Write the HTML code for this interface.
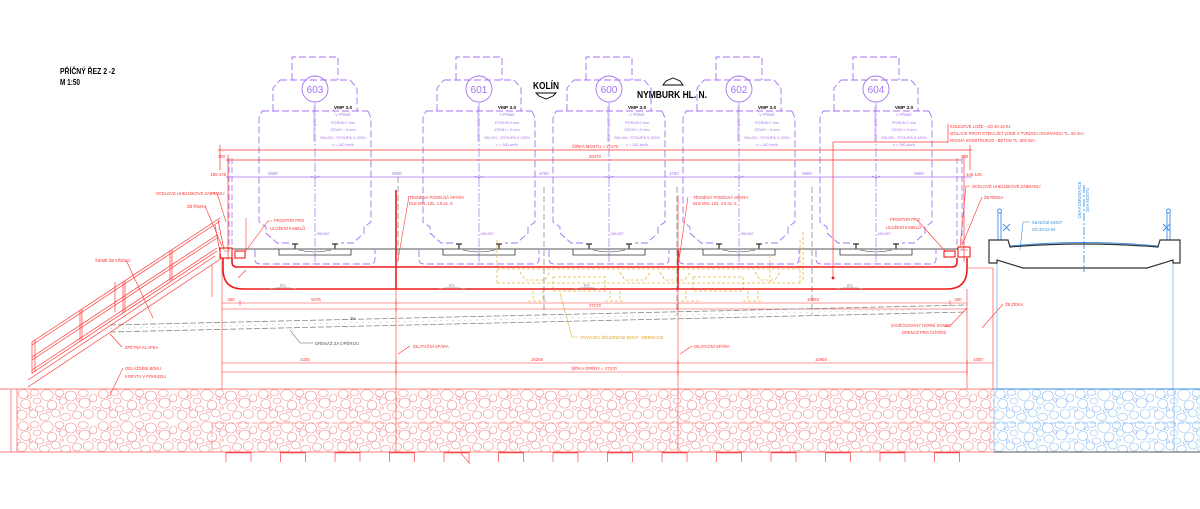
<!DOCTYPE html>
<html><head><meta charset="utf-8"><style>
html,body{margin:0;padding:0;background:#fff;}
svg{display:block;}
text{font-family:"Liberation Sans",sans-serif;}
</style></head><body>
<svg width="1200" height="509" viewBox="0 0 1200 509" xmlns="http://www.w3.org/2000/svg">
<defs>
<pattern id="st" width="64" height="32" patternUnits="userSpaceOnUse" patternTransform="translate(17,389) scale(1.25,1)">
<g fill="none" stroke="#f26a6a" stroke-width="0.5">
<ellipse cx="5" cy="5" rx="4" ry="4.5"/><ellipse cx="14" cy="3.5" rx="3.5" ry="3"/><ellipse cx="24" cy="6" rx="5" ry="5.5"/><ellipse cx="34" cy="4" rx="3.5" ry="3.5"/><ellipse cx="43" cy="7" rx="4.5" ry="5"/><ellipse cx="53" cy="4" rx="4" ry="3.5"/><ellipse cx="61" cy="9" rx="3" ry="4"/>
<ellipse cx="7" cy="15" rx="4" ry="4.5"/><ellipse cx="16" cy="12" rx="3" ry="3"/><ellipse cx="18" cy="20" rx="3.5" ry="3"/><ellipse cx="28" cy="16" rx="4" ry="4.5"/><ellipse cx="37" cy="12" rx="3" ry="3.5"/><ellipse cx="44" cy="18" rx="4" ry="4"/><ellipse cx="54" cy="14" rx="4.5" ry="5"/>
<ellipse cx="4" cy="26" rx="4" ry="4.5"/><ellipse cx="13" cy="25" rx="3.5" ry="4"/><ellipse cx="22" cy="28" rx="4" ry="3.5"/><ellipse cx="31" cy="24" rx="3.5" ry="4"/><ellipse cx="39" cy="28" rx="4" ry="3.5"/><ellipse cx="48" cy="26" rx="3.5" ry="4"/><ellipse cx="57" cy="25" rx="4" ry="4.5"/>
<circle cx="10" cy="8" r="1.5"/><circle cx="33" cy="9" r="1.5"/><circle cx="49" cy="11" r="1.5"/><circle cx="25" cy="22" r="1.5"/><circle cx="62" cy="19" r="1.5"/><circle cx="1" cy="20" r="1.7"/><circle cx="36" cy="19" r="1.2"/><circle cx="11" cy="20" r="1.3"/>
</g></pattern>
<pattern id="stb" width="64" height="32" patternUnits="userSpaceOnUse" patternTransform="translate(994,389) scale(1.25,1)">
<g fill="none" stroke="#6aaaf0" stroke-width="0.5">
<ellipse cx="5" cy="5" rx="4" ry="4.5"/><ellipse cx="14" cy="3.5" rx="3.5" ry="3"/><ellipse cx="24" cy="6" rx="5" ry="5.5"/><ellipse cx="34" cy="4" rx="3.5" ry="3.5"/><ellipse cx="43" cy="7" rx="4.5" ry="5"/><ellipse cx="53" cy="4" rx="4" ry="3.5"/><ellipse cx="61" cy="9" rx="3" ry="4"/>
<ellipse cx="7" cy="15" rx="4" ry="4.5"/><ellipse cx="16" cy="12" rx="3" ry="3"/><ellipse cx="18" cy="20" rx="3.5" ry="3"/><ellipse cx="28" cy="16" rx="4" ry="4.5"/><ellipse cx="37" cy="12" rx="3" ry="3.5"/><ellipse cx="44" cy="18" rx="4" ry="4"/><ellipse cx="54" cy="14" rx="4.5" ry="5"/>
<ellipse cx="4" cy="26" rx="4" ry="4.5"/><ellipse cx="13" cy="25" rx="3.5" ry="4"/><ellipse cx="22" cy="28" rx="4" ry="3.5"/><ellipse cx="31" cy="24" rx="3.5" ry="4"/><ellipse cx="39" cy="28" rx="4" ry="3.5"/><ellipse cx="48" cy="26" rx="3.5" ry="4"/><ellipse cx="57" cy="25" rx="4" ry="4.5"/>
<circle cx="10" cy="8" r="1.5"/><circle cx="33" cy="9" r="1.5"/><circle cx="49" cy="11" r="1.5"/><circle cx="25" cy="22" r="1.5"/><circle cx="62" cy="19" r="1.5"/><circle cx="1" cy="20" r="1.7"/><circle cx="36" cy="19" r="1.2"/><circle cx="11" cy="20" r="1.3"/>
</g></pattern>
<g id="gg" fill="none" stroke="#a572f2" stroke-width="0.9">
<path stroke-dasharray="7 3" d="M -26,243 H -38 L -49,233 V 227 L -56,222 V 118 L -53,111 M -42,111 V 88 L -35,80 M -23,80 V 57 H 23 V 80 M 35,80 L 42,88 V 111 M 53,111 L 56,118 V 222 L 49,227 V 233 L 38,243 H 26"/>
<path stroke-dasharray="7 3" d="M -35,80 H 35 M -53,111 H 53"/>
<path stroke-dasharray="7 3" d="M -60,250 V 259 Q -60,264 -55,264 H 55 Q 60,264 60,259 V 250"/>
<circle cx="0" cy="89" r="13"/>
<path d="M 0,103 V 262" stroke-dasharray="9 2 2 2" stroke-width="0.7"/>
<path d="M -4,176 L 0,178 L 4,176" stroke-width="0.7"/>
</g>
<g id="tr" fill="none" stroke="#333" stroke-width="0.8">
<path d="M -36,249 H 36 V 255 H -36 Z"/>
<path d="M -23,244 h6 M -20,244 v5 M 17,244 h6 M 20,244 v5" stroke-width="1.2"/>
<path d="M -16,250 Q 0,254 16,250" stroke-width="0.5"/>
</g>
</defs>

<!-- Title -->
<text x="60" y="74" font-size="8" font-weight="bold" textLength="55" lengthAdjust="spacingAndGlyphs">PŘÍČNÝ ŘEZ 2 -2</text>
<text x="60" y="85" font-size="8" font-weight="bold" textLength="20" lengthAdjust="spacingAndGlyphs">M 1:50</text>

<!-- direction labels -->
<text x="533" y="89" font-size="10" font-weight="bold" textLength="26" lengthAdjust="spacingAndGlyphs">KOLÍN</text>
<polygon points="536,93 556,93 553,96 546,99 539,96" fill="none" stroke="#000" stroke-width="0.9"/>
<text x="637" y="98" font-size="10" font-weight="bold" textLength="70" lengthAdjust="spacingAndGlyphs">NYMBURK HL. N.</text>
<polygon points="663,85 683,85 680,81 673,78 666,81" fill="none" stroke="#000" stroke-width="0.9"/>

<!-- gauges -->
<use href="#gg" x="315"/><use href="#gg" x="479"/><use href="#gg" x="609"/><use href="#gg" x="739"/><use href="#gg" x="876"/>
<use href="#tr" x="315"/><use href="#tr" x="479"/><use href="#tr" x="609"/><use href="#tr" x="739"/><use href="#tr" x="876"/>
<g font-size="10" fill="#a572f2" text-anchor="middle">
<text x="315" y="93">603</text><text x="479" y="93">601</text><text x="609" y="93">600</text><text x="739" y="93">602</text><text x="876" y="93">604</text>
</g>
<g text-anchor="middle">
<g font-size="4.8" font-weight="bold" fill="#111">
<text x="343" y="109">VMP 3.0</text><text x="507" y="109">VMP 3.0</text><text x="637" y="109">VMP 3.0</text><text x="767" y="109">VMP 3.0</text><text x="904" y="109">VMP 3.0</text>
</g>
<g font-size="3.8" fill="#a572f2">
<text x="343" y="116">V PŘÍMÉ</text><text x="343" y="124">POSUN 0 mm</text><text x="343" y="131">ZDVIH = 0 mm</text><text x="343" y="139">SKLON - STOUPÁ 0,125%</text><text x="343" y="146">v = 160 km/h</text>
<text x="507" y="116">V PŘÍMÉ</text><text x="507" y="124">POSUN 0 mm</text><text x="507" y="131">ZDVIH = 0 mm</text><text x="507" y="139">SKLON - STOUPÁ 0,125%</text><text x="507" y="146">v = 160 km/h</text>
<text x="637" y="116">V PŘÍMÉ</text><text x="637" y="124">POSUN 0 mm</text><text x="637" y="131">ZDVIH = 0 mm</text><text x="637" y="139">SKLON - STOUPÁ 0,125%</text><text x="637" y="146">v = 160 km/h</text>
<text x="767" y="116">V PŘÍMÉ</text><text x="767" y="124">POSUN 0 mm</text><text x="767" y="131">ZDVIH = 0 mm</text><text x="767" y="139">SKLON - STOUPÁ 0,125%</text><text x="767" y="146">v = 160 km/h</text>
<text x="904" y="116">V PŘÍMÉ</text><text x="904" y="124">POSUN 0 mm</text><text x="904" y="131">ZDVIH = 0 mm</text><text x="904" y="139">SKLON - STOUPÁ 0,125%</text><text x="904" y="146">v = 160 km/h</text>
<text x="323" y="235">188.857</text><text x="487" y="235">188.857</text><text x="617" y="235">188.857</text><text x="747" y="235">188.857</text><text x="884" y="235">188.857</text>
</g>
</g>
<g font-size="3.8" fill="#a572f2" text-anchor="middle">
<text transform="translate(313,124) rotate(90)">OSA NOVÉ KOLEJE</text>
<text transform="translate(477,124) rotate(90)">OSA NOVÉ KOLEJE</text>
<text transform="translate(607,124) rotate(90)">OSA NOVÉ KOLEJE</text>
<text transform="translate(737,124) rotate(90)">OSA NOVÉ KOLEJE</text>
<text transform="translate(874,124) rotate(90)">OSA NOVÉ KOLEJE</text>
</g>

<!-- purple dimension line & deck edge verticals -->
<g stroke="#a572f2" stroke-width="0.8" fill="none">
<path d="M 226,177 H 972"/>
<path d="M 229,158 V 250 M 232,158 V 250 M 957,158 V 250 M 962,158 V 250" stroke-dasharray="6 3"/>
</g>
<g font-size="4.3" fill="#a572f2" text-anchor="middle">
<text x="273" y="175">5000</text><text x="397" y="175">6000</text><text x="544" y="175">4750</text><text x="674" y="175">4750</text><text x="807" y="175">5000</text><text x="919" y="175">5000</text>
</g>
<g font-size="4.3" fill="#f33" text-anchor="end">
<text x="225" y="158">450</text><text x="226" y="176">180-175</text>
</g>
<g font-size="4.3" fill="#f33">
<text x="961" y="158">450</text><text x="966" y="176">145-125</text>
</g>

<!-- gray dashed verticals -->
<g stroke="#999" stroke-width="0.9" stroke-dasharray="6 3">
<path d="M 398,177 V 262 M 544,187 V 315 M 677,187 V 315 M 812,187 V 315"/>
</g>

<!-- red top dimension lines -->
<g stroke="#f33" stroke-width="0.7" fill="none">
<path d="M 218,150 H 972 M 226,160 H 962"/>
<path d="M 220,145 V 170 M 228,155 V 260 M 970,145 V 170 M 964,155 V 262"/>
<path d="M 833,142 V 278 M 833,142 H 948 M 948,124 V 143"/>
</g>
<circle cx="833" cy="278" r="1.4" fill="#e11"/>
<g font-size="4.3" fill="#f33" text-anchor="middle">
<text x="595" y="148">ŠÍŘKA MOSTU = 27170</text>
<text x="595" y="158">26470</text>
</g>
<g font-size="4.1" fill="#f33">
<text x="950" y="128">KOLEJOVÉ LOŽE - SO 20-10-01</text>
<text x="950" y="135">IZOLACE PROTI STÉKAJÍCÍ VODĚ S TVRDOU OCHRANOU TL. 60 mm</text>
<text x="950" y="142">NOSNÁ KONSTRUKCE - BETON TL. 800 mm</text>
</g>

<!-- deck top gray line -->
<path d="M 232,249 H 958" stroke="#555" stroke-width="1"/>

<!-- existing bridge (orange dashed) -->
<g stroke="#e8b840" stroke-width="0.8" fill="none" stroke-dasharray="3 2">
<path d="M 497,240 V 283 M 497,269 H 800 M 497,283 H 800 M 800,240 V 285 M 770,255 V 283 M 803,232 V 280"/>
<rect x="553" y="277" width="52" height="14"/>
<rect x="693" y="277" width="50" height="14"/>
<path d="M 520,272 l5,8 h20 l5,-8 M 620,272 l5,8 h20 l5,-8 M 660,272 l5,8 h20 l5,-8 M 755,272 l5,8 h15 l5,-8"/>
<path d="M 533,291 v10 M 543,291 v10 M 610,291 v10 M 620,291 v10 M 686,291 v10 M 748,291 v10 M 758,291 v10 M 528,301 h20 M 605,301 h20 M 681,301 h20 M 743,301 h20"/>
</g>
<path d="M 578,337 H 572 L 560,293" stroke="#e8b840" stroke-width="0.6" fill="none"/>
<text x="580" y="339" font-size="4.1" fill="#e0a020">STÁVAJÍCÍ ŽELEZNIČNÍ MOST - DEMOLICE</text>

<!-- red deck -->
<g stroke="#ee1c1c" stroke-width="1.6" fill="none">
<path d="M 223,258 V 269 Q 223,289 243,289 H 947 Q 967,289 967,269 V 258"/>
<path d="M 232,258 V 262 Q 232,267 237,267 H 952 Q 957,267 957,262 V 258"/>
<path d="M 396,190 V 289 M 678,250 V 289"/>
</g>
<g stroke="#ee1c1c" stroke-width="1.1" fill="none">
<rect x="220" y="248" width="12" height="10"/>
<rect x="235" y="251" width="10" height="7"/>
<rect x="958" y="247" width="12" height="10"/>
<rect x="944" y="251" width="11" height="6"/>
</g>
<g stroke="#f33" stroke-width="0.6" fill="none">
<path d="M 224,251 h6 M 960,250 h8"/>
<path d="M 396,289 V 452 M 678,289 V 452 M 678,195 V 250"/>
<path d="M 222,258 V 389 M 967,289 V 389 M 993,268 V 389 M 967,268 H 993"/>
<path d="M 222,303 H 967 M 222,309 H 967 M 222,363 H 993 M 222,372 H 967"/>
<path d="M 240,300 v6 M 396,300 v12 M 678,300 v12 M 950,300 v6 M 396,360 v15 M 678,360 v15 M 967,360 v15"/>
<path d="M 212,265 V 297 M 246,218 V 250 M 238,278 l8,-8"/>
<path d="M 409,196 L 398,260 M 688,197 L 679,260"/>
<path d="M 410,346 L 398,354 M 692,346 L 680,354"/>
</g>
<g font-size="4.3" fill="#f33" text-anchor="middle">
<text x="231" y="301">450</text><text x="316" y="301">5475</text><text x="595" y="307">27170</text><text x="813" y="301">10950</text><text x="958" y="301">450</text>
<text x="305" y="361">4325</text><text x="537" y="361">16256</text><text x="821" y="361">10950</text><text x="978" y="361">1000</text>
<text x="594" y="370">ŠÍŘKA OPĚRY = 27170</text>
</g>
<g font-size="4.3" fill="#999" text-anchor="middle">
<text x="283" y="287">8%</text><text x="452" y="287">8%</text><text x="587" y="287">8%</text><text x="850" y="287">8%</text>
</g>
<g stroke="#aaa" stroke-width="0.6" fill="none">
<path d="M 270,289 q13,-3 26,0 M 439,289 q13,-3 26,0 M 574,289 q13,-3 26,0 M 837,289 q13,-3 26,0"/>
</g>

<!-- drainage -->
<g stroke="#888" stroke-width="0.8" fill="none" stroke-dasharray="6 2">
<path d="M 110,325 L 967,305"/>
<path d="M 110,332 L 967,312"/>
</g>
<path d="M 110,328.5 L 967,308.5" stroke="#bbb" stroke-width="0.5" stroke-dasharray="2 4"/>
<path d="M 313,343 H 300 L 290,330" stroke="#666" stroke-width="0.6" fill="none"/>
<text x="315" y="345" font-size="4.3" fill="#555">DRENÁŽ ZA OPĚROU</text>
<text x="350" y="320" font-size="4.3" fill="#555">3%</text>

<!-- stairs / wing -->
<g stroke="#f33" stroke-width="0.7" fill="none">
<path d="M 32,342 L 220,218 M 32,345 L 220,221"/>
<path d="M 32,357 L 217,235 M 32,360 L 217,238"/>
<path d="M 32,370 L 217,248 M 32,373 L 217,251"/>
<path d="M 28,387 L 222,258 M 28,380 L 215,256"/>
<path d="M 32,342 V 374 M 35,340 V 372 M 80,310 V 341 M 82,309 V 340 M 170,251 V 281 M 172,250 V 280 M 123,282 V 313 M 125,281 V 312 M 115,282 V 312"/>
<path d="M 215,225 L 221,258 M 218,220 L 224,250"/>
</g>
<g stroke="#f33" stroke-width="0.6" fill="none">
<path d="M 213,193 H 217 L 226,222"/>
<path d="M 205,206 L 222,246"/>
<path d="M 272,221 H 268 L 245,252"/>
<path d="M 126,260 L 153,318"/>
<path d="M 122,347 L 110,334"/>
<path d="M 123,368 L 110,395"/>
<path d="M 970,186 H 966 L 960,247"/>
<path d="M 982,197 L 962,245"/>
<path d="M 917,220 L 946,252"/>
<path d="M 945,326 H 950 L 967,308"/>
<path d="M 1003,304 L 982,328"/>
</g>
<g font-size="4.1" fill="#f33">
<text x="156" y="195">OCELOVÉ ÚHELNÍKOVÉ ZÁBRADLÍ</text>
<text x="187" y="208">ŽB ŘÍMSA</text>
<text x="274" y="222">PROSTOR PRO</text>
<text x="270" y="230">ULOŽENÍ KABELŮ</text>
<text x="95" y="262">ŠIKMÉ ŽB KŘÍDLO</text>
<text x="125" y="349">ZPĚTNÁ KLAPKA</text>
<text x="125" y="370">ODLÁŽDĚNÍ BOKU</text>
<text x="125" y="378">KORYTA V POHLEDU</text>
<text x="409" y="199">TĚSNĚNÁ PODÉLNÁ SPÁRA</text>
<text x="409" y="205">DLE MVL 102, 4.8 a1. 8</text>
<text x="693" y="199">TĚSNĚNÁ PODÉLNÁ SPÁRA</text>
<text x="693" y="205">DLE MVL 102, 4.8 a1. 8</text>
<text x="413" y="348">DILATAČNÍ SPÁRA</text>
<text x="694" y="348">DILATAČNÍ SPÁRA</text>
<text x="972" y="188">OCELOVÉ ÚHELNÍKOVÉ ZÁBRADLÍ</text>
<text x="984" y="199">ŽB ŘÍMSA</text>
<text x="890" y="221">PROSTOR PRO</text>
<text x="886" y="229">ULOŽENÍ KABELŮ</text>
<text x="891" y="327">ZAVĚČKOVANÝ HORNÍ KONEC</text>
<text x="902" y="334">DRENÁŽ PRO ČIŠTĚNÍ</text>
<text x="1005" y="306">ŽB ZÍDKA</text>
</g>

<!-- road bridge (blue) -->
<g stroke="#3a8ee6" stroke-width="0.9" fill="none">
<path d="M 1010,246 Q 1084,239 1158,246"/>
<path d="M 998,212 V 240 M 1001,212 V 240 M 1167,212 V 240 M 1170,212 V 240"/>
<circle cx="999.5" cy="211" r="2"/><circle cx="1168.5" cy="211" r="2"/>
<path d="M 1003,224 l7,7 M 1010,224 l-7,7 M 1163,224 l7,7 M 1170,224 l-7,7"/>
<path d="M 1084,185 V 272" stroke-dasharray="8 2 2 2"/>
<path d="M 1030,222 H 1023 L 1020,250" stroke-width="0.6"/>
</g>
<g stroke="#8cc0f0" stroke-width="0.9" fill="none">
<path d="M 997,263 V 389 M 1173,263 V 389"/>
</g>
<path d="M 989,240 H 1008 L 1010,247 Q 1084,241 1158,247 L 1160,240 H 1180 V 263 H 1173 V 260 L 1147,268 H 1023 L 997,260 V 263 H 989 Z" fill="none" stroke="#333" stroke-width="1.2"/>
<g font-size="4.1" fill="#3a8ee6">
<text x="1032" y="224">SILNIČNÍ MOST</text>
<text x="1032" y="231">SO 20-22-04</text>
<text transform="translate(1081,200) rotate(-90)" text-anchor="middle">OSA KOMUNIKACE</text>
<text transform="translate(1089,200) rotate(-90)" text-anchor="middle">OSA MOSTU</text>
</g>

<!-- stone fill -->
<rect x="17" y="389" width="977" height="63" fill="url(#st)" opacity="0.8"/>
<rect x="994" y="389" width="206" height="63" fill="url(#stb)" opacity="0.8"/>
<g stroke="#f55" stroke-width="0.7" fill="none">
<path d="M 0,389 H 994 M 0,452 H 994 M 11,389 V 452 M 17,389 V 452"/>
<path d="M 212,423 H 994 M 212,423 V 452" stroke-dasharray="6 2" stroke="#f88"/>
</g>
<g stroke="#3a8ee6" stroke-width="0.9" fill="none">
<path d="M 994,389 H 1200"/>
<path d="M 994,423 H 1200" stroke-dasharray="6 2" stroke="#9cc8f0"/>
<path d="M 994,389 V 452 M 1174,389 V 452" stroke="#9cc8f0"/>
</g>
<path d="M 994,452 H 1200" stroke="#555" stroke-width="0.9"/>
<g stroke="#f44" stroke-width="0.7" fill="none">
<path d="M226,452v10M251,452v10M280.5,452v10M305.5,452v10M335,452v10M360,452v10M389.5,452v10M414.5,452v10M444,452v10M469,452v10M498.5,452v10M523.5,452v10M553,452v10M578,452v10M607.5,452v10M632.5,452v10M662,452v10M687,452v10M716.5,452v10M741.5,452v10M771,452v10M796,452v10M825.5,452v10M850.5,452v10M880,452v10M905,452v10M934.5,452v10M959.5,452v10"/>
<path d="M226,452.5h25M280.5,452.5h25M335,452.5h25M389.5,452.5h25M444,452.5h25M498.5,452.5h25M553,452.5h25M607.5,452.5h25M662,452.5h25M716.5,452.5h25M771,452.5h25M825.5,452.5h25M880,452.5h25M934.5,452.5h25" stroke-width="1.4"/>
<path d="M 460,452 l10,12" stroke-width="0.6"/>
</g>
</svg>
</body></html>
